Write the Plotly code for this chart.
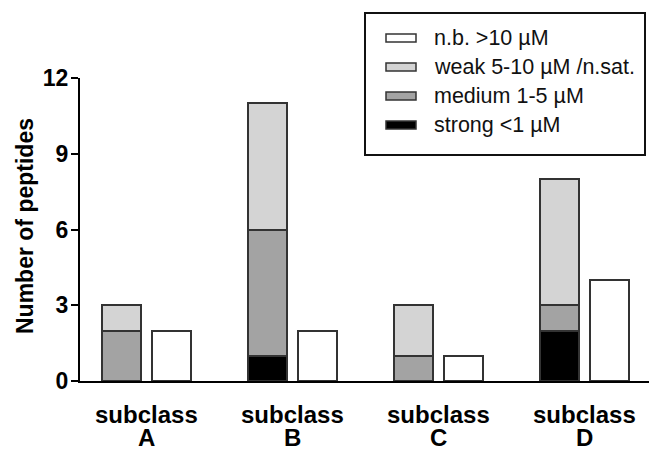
import plotly.graph_objects as go

# Peptide counts per subclass and binding category
subclasses = ["A", "B", "C", "D"]
strong = [0, 1, 0, 2]
medium = [2, 5, 1, 1]
weak = [1, 5, 2, 5]
no_binding = [2, 2, 1, 4]

legend_names = ["n.b. >10 µM", "weak 5-10 µM /n.sat.", "medium 1-5 µM", "strong <1 µM"]
y_ticks = [0, 3, 6, 9, 12]
y_title = "Number of peptides"
group_word = "subclass"

FONT = "Liberation Sans, Arial, sans-serif"
EDGE = "#333333"
COLORS = {"nb": "#ffffff", "weak": "#d4d4d4", "medium": "#a3a3a3", "strong": "#000000"}

BAR_W = 0.267
STACK_OFF = -0.302
NB_OFF = 0.035

base_medium = list(strong)
base_weak = [s + m for s, m in zip(strong, medium)]

fig = go.Figure()


def add_bar(values, base, color, offset):
    fig.add_trace(go.Bar(
        x=subclasses, y=values, base=base,
        width=BAR_W, offset=offset,
        marker=dict(color=color, line=dict(color=EDGE, width=2)),
        showlegend=False,
    ))


add_bar(strong, [0] * 4, COLORS["strong"], STACK_OFF)
add_bar(medium, base_medium, COLORS["medium"], STACK_OFF)
add_bar(weak, base_weak, COLORS["weak"], STACK_OFF)
add_bar(no_binding, [0] * 4, COLORS["nb"], NB_OFF)

# Plot area in pixels, used to place the boxed legend and the labels
L, R, T, B = 80, 0, 78, 70
W, H = 649, 451
pw, ph = W - L - R, H - T - B


def px_x(x):
    return (x - L) / pw


def px_y(y):
    return (H - B - y) / ph


shapes = [dict(type="rect", xref="paper", yref="paper",
               x0=px_x(365), x1=px_x(645), y0=px_y(155), y1=px_y(13),
               line=dict(color="#111111", width=2), fillcolor="white", layer="above")]
annotations = []
swatch_colors = [COLORS["nb"], COLORS["weak"], COLORS["medium"], COLORS["strong"]]
row_y = [38, 67, 96, 125]
for name, col, cy in zip(legend_names, swatch_colors, row_y):
    shapes.append(dict(type="rect", xref="paper", yref="paper",
                       x0=px_x(386), x1=px_x(416), y0=px_y(cy + 4), y1=px_y(cy - 4),
                       line=dict(color=EDGE, width=1.5), fillcolor=col, layer="above"))
    annotations.append(dict(xref="paper", yref="paper", x=px_x(432), y=px_y(cy),
                            xanchor="left", yanchor="middle", showarrow=False,
                            text=name, font=dict(family=FONT, size=21.5, color="#111111")))

# Two-line category labels under each group, set tighter than <br> spacing
label_font = dict(family=FONT, size=24, color="black", weight="bold")
for s in subclasses:
    annotations.append(dict(xref="x", yref="paper", x=s, y=px_y(414),
                            xanchor="center", yanchor="middle", showarrow=False,
                            borderpad=0, text=group_word, font=label_font))
    annotations.append(dict(xref="x", yref="paper", x=s, y=px_y(437),
                            xanchor="center", yanchor="middle", showarrow=False,
                            borderpad=0, text=s, font=label_font))

# Y axis title
annotations.append(dict(xref="paper", yref="paper", x=px_x(25), y=px_y(226),
                        xanchor="center", yanchor="middle", showarrow=False,
                        textangle=-90, text=y_title,
                        font=dict(family=FONT, size=23, color="black", weight="bold")))

fig.update_layout(
    width=W, height=H,
    margin=dict(l=L, r=R, t=T, b=B, pad=0),
    paper_bgcolor="white", plot_bgcolor="white",
    barmode="overlay",
    bargap=0,
    font=dict(family=FONT, color="black"),
    shapes=shapes,
    annotations=annotations,
    xaxis=dict(
        type="category",
        range=[-0.455, 3.442],
        showline=True, linecolor="black", linewidth=2,
        ticks="", showgrid=False, zeroline=False,
        showticklabels=False,
        fixedrange=True,
    ),
    yaxis=dict(
        range=[0, 12], tickvals=y_ticks,
        showline=True, linecolor="black", linewidth=2,
        ticks="outside", ticklen=7, tickwidth=2, tickcolor="black",
        showgrid=False, zeroline=False,
        ticklabelstandoff=-2,
        tickfont=dict(family=FONT, size=23, color="black", weight="bold"),
    ),
)

fig.write_html("out.html")
